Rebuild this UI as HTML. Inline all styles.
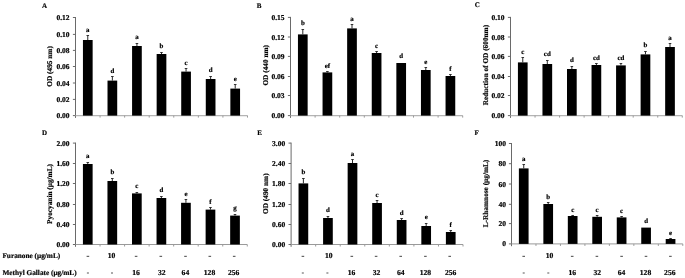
<!DOCTYPE html>
<html><head><meta charset="utf-8"><style>
html,body{margin:0;padding:0;background:#fff;}
body{width:685px;height:278px;overflow:hidden;}
svg{display:block;}
text{font-family:"Liberation Serif",serif;font-weight:bold;fill:#000;text-rendering:geometricPrecision;stroke:#000;stroke-width:0.18px;}
svg{filter:grayscale(1);}
</style></head><body>
<svg width="685" height="278" viewBox="0 0 685 278">
<rect width="685" height="278" fill="#fff"/>
<line x1="75.5" y1="17.00" x2="75.5" y2="117.90" stroke="#6a6a6a" stroke-width="1"/>
<line x1="72.90" y1="115.6" x2="75.5" y2="115.6" stroke="#6a6a6a" stroke-width="1"/>
<text x="69.60" y="118.10" text-anchor="end" font-size="7.5">0.00</text>
<line x1="72.90" y1="99.4" x2="75.5" y2="99.4" stroke="#6a6a6a" stroke-width="1"/>
<text x="69.60" y="101.90" text-anchor="end" font-size="7.5">0.02</text>
<line x1="72.90" y1="83.0" x2="75.5" y2="83.0" stroke="#6a6a6a" stroke-width="1"/>
<text x="69.60" y="85.50" text-anchor="end" font-size="7.5">0.04</text>
<line x1="72.90" y1="66.5" x2="75.5" y2="66.5" stroke="#6a6a6a" stroke-width="1"/>
<text x="69.60" y="69.00" text-anchor="end" font-size="7.5">0.06</text>
<line x1="72.90" y1="50.4" x2="75.5" y2="50.4" stroke="#6a6a6a" stroke-width="1"/>
<text x="69.60" y="52.90" text-anchor="end" font-size="7.5">0.08</text>
<line x1="72.90" y1="34.4" x2="75.5" y2="34.4" stroke="#6a6a6a" stroke-width="1"/>
<text x="69.60" y="36.90" text-anchor="end" font-size="7.5">0.10</text>
<line x1="72.90" y1="17.5" x2="75.5" y2="17.5" stroke="#6a6a6a" stroke-width="1"/>
<text x="69.60" y="20.00" text-anchor="end" font-size="7.5">0.12</text>
<line x1="75.5" y1="115.6" x2="247.49" y2="115.6" stroke="#b4b4b4" stroke-width="1.4"/>
<line x1="100.07" y1="115.6" x2="100.07" y2="117.60" stroke="#9a9a9a" stroke-width="1"/>
<line x1="124.64" y1="115.6" x2="124.64" y2="117.60" stroke="#9a9a9a" stroke-width="1"/>
<line x1="149.21" y1="115.6" x2="149.21" y2="117.60" stroke="#9a9a9a" stroke-width="1"/>
<line x1="173.78" y1="115.6" x2="173.78" y2="117.60" stroke="#9a9a9a" stroke-width="1"/>
<line x1="198.35" y1="115.6" x2="198.35" y2="117.60" stroke="#9a9a9a" stroke-width="1"/>
<line x1="222.92" y1="115.6" x2="222.92" y2="117.60" stroke="#9a9a9a" stroke-width="1"/>
<line x1="247.49" y1="115.6" x2="247.49" y2="117.60" stroke="#9a9a9a" stroke-width="1"/>
<rect x="82.94" y="40" width="9.7" height="75.60" fill="#000"/>
<line x1="87.78" y1="35.5" x2="87.78" y2="40" stroke="#111" stroke-width="0.9"/>
<line x1="86.48" y1="35.5" x2="89.08" y2="35.5" stroke="#222" stroke-width="0.9"/>
<text x="87.78" y="31.60" text-anchor="middle" font-size="6.9">a</text>
<rect x="107.51" y="80.6" width="9.7" height="35.00" fill="#000"/>
<line x1="112.36" y1="76.5" x2="112.36" y2="80.6" stroke="#111" stroke-width="0.9"/>
<line x1="111.06" y1="76.5" x2="113.66" y2="76.5" stroke="#222" stroke-width="0.9"/>
<text x="112.36" y="73.20" text-anchor="middle" font-size="6.9">d</text>
<rect x="132.08" y="46" width="9.7" height="69.60" fill="#000"/>
<line x1="136.93" y1="43.5" x2="136.93" y2="46" stroke="#111" stroke-width="0.9"/>
<line x1="135.63" y1="43.5" x2="138.23" y2="43.5" stroke="#222" stroke-width="0.9"/>
<text x="136.93" y="39.20" text-anchor="middle" font-size="6.9">a</text>
<rect x="156.65" y="54" width="9.7" height="61.60" fill="#000"/>
<line x1="161.5" y1="52.5" x2="161.5" y2="54" stroke="#111" stroke-width="0.9"/>
<line x1="160.20" y1="52.5" x2="162.80" y2="52.5" stroke="#222" stroke-width="0.9"/>
<text x="161.50" y="48.20" text-anchor="middle" font-size="6.9">b</text>
<rect x="181.22" y="71.6" width="9.7" height="44.00" fill="#000"/>
<line x1="186.06" y1="68.5" x2="186.06" y2="71.6" stroke="#111" stroke-width="0.9"/>
<line x1="184.76" y1="68.5" x2="187.36" y2="68.5" stroke="#222" stroke-width="0.9"/>
<text x="186.06" y="64.95" text-anchor="middle" font-size="6.9">c</text>
<rect x="205.78" y="79" width="9.7" height="36.60" fill="#000"/>
<line x1="210.63" y1="76.5" x2="210.63" y2="79" stroke="#111" stroke-width="0.9"/>
<line x1="209.33" y1="76.5" x2="211.93" y2="76.5" stroke="#222" stroke-width="0.9"/>
<text x="210.63" y="72.40" text-anchor="middle" font-size="6.9">d</text>
<rect x="230.36" y="88.6" width="9.7" height="27.00" fill="#000"/>
<line x1="235.21" y1="84.5" x2="235.21" y2="88.6" stroke="#111" stroke-width="0.9"/>
<line x1="233.91" y1="84.5" x2="236.51" y2="84.5" stroke="#222" stroke-width="0.9"/>
<text x="235.21" y="81.40" text-anchor="middle" font-size="6.9">e</text>
<text x="42.0" y="7.7" font-size="7.0">A</text>
<text transform="translate(52.3,66.40) rotate(-90)" text-anchor="middle" font-size="7.3">OD (495 nm)</text>
<line x1="290.5" y1="16.90" x2="290.5" y2="117.90" stroke="#6a6a6a" stroke-width="1"/>
<line x1="287.90" y1="115.6" x2="290.5" y2="115.6" stroke="#6a6a6a" stroke-width="1"/>
<text x="284.60" y="118.10" text-anchor="end" font-size="7.5">0.00</text>
<line x1="287.90" y1="95.5" x2="290.5" y2="95.5" stroke="#6a6a6a" stroke-width="1"/>
<text x="284.60" y="98.00" text-anchor="end" font-size="7.5">0.03</text>
<line x1="287.90" y1="76.5" x2="290.5" y2="76.5" stroke="#6a6a6a" stroke-width="1"/>
<text x="284.60" y="79.00" text-anchor="end" font-size="7.5">0.06</text>
<line x1="287.90" y1="56.4" x2="290.5" y2="56.4" stroke="#6a6a6a" stroke-width="1"/>
<text x="284.60" y="58.90" text-anchor="end" font-size="7.5">0.09</text>
<line x1="287.90" y1="37.0" x2="290.5" y2="37.0" stroke="#6a6a6a" stroke-width="1"/>
<text x="284.60" y="39.50" text-anchor="end" font-size="7.5">0.12</text>
<line x1="287.90" y1="17.4" x2="290.5" y2="17.4" stroke="#6a6a6a" stroke-width="1"/>
<text x="284.60" y="19.90" text-anchor="end" font-size="7.5">0.15</text>
<line x1="290.5" y1="115.6" x2="462.70" y2="115.6" stroke="#b4b4b4" stroke-width="1.4"/>
<line x1="315.10" y1="115.6" x2="315.10" y2="117.60" stroke="#9a9a9a" stroke-width="1"/>
<line x1="339.70" y1="115.6" x2="339.70" y2="117.60" stroke="#9a9a9a" stroke-width="1"/>
<line x1="364.30" y1="115.6" x2="364.30" y2="117.60" stroke="#9a9a9a" stroke-width="1"/>
<line x1="388.90" y1="115.6" x2="388.90" y2="117.60" stroke="#9a9a9a" stroke-width="1"/>
<line x1="413.50" y1="115.6" x2="413.50" y2="117.60" stroke="#9a9a9a" stroke-width="1"/>
<line x1="438.10" y1="115.6" x2="438.10" y2="117.60" stroke="#9a9a9a" stroke-width="1"/>
<line x1="462.70" y1="115.6" x2="462.70" y2="117.60" stroke="#9a9a9a" stroke-width="1"/>
<rect x="297.95" y="34.4" width="9.7" height="81.20" fill="#000"/>
<line x1="302.8" y1="29.5" x2="302.8" y2="34.4" stroke="#111" stroke-width="0.9"/>
<line x1="301.50" y1="29.5" x2="304.10" y2="29.5" stroke="#222" stroke-width="0.9"/>
<text x="302.80" y="24.70" text-anchor="middle" font-size="6.9">b</text>
<rect x="322.55" y="72.4" width="9.7" height="43.20" fill="#000"/>
<line x1="327.4" y1="71.5" x2="327.4" y2="72.4" stroke="#111" stroke-width="0.9"/>
<line x1="326.10" y1="71.5" x2="328.70" y2="71.5" stroke="#222" stroke-width="0.9"/>
<text x="327.40" y="67.60" text-anchor="middle" font-size="6.9">ef</text>
<rect x="347.15" y="28.4" width="9.7" height="87.20" fill="#000"/>
<line x1="352.0" y1="24.5" x2="352.0" y2="28.4" stroke="#111" stroke-width="0.9"/>
<line x1="350.70" y1="24.5" x2="353.30" y2="24.5" stroke="#222" stroke-width="0.9"/>
<text x="352.00" y="21.20" text-anchor="middle" font-size="6.9">a</text>
<rect x="371.75" y="53" width="9.7" height="62.60" fill="#000"/>
<line x1="376.6" y1="51.5" x2="376.6" y2="53" stroke="#111" stroke-width="0.9"/>
<line x1="375.30" y1="51.5" x2="377.90" y2="51.5" stroke="#222" stroke-width="0.9"/>
<text x="376.60" y="48.20" text-anchor="middle" font-size="6.9">c</text>
<rect x="396.35" y="63" width="9.7" height="52.60" fill="#000"/>
<text x="401.20" y="57.80" text-anchor="middle" font-size="6.9">d</text>
<rect x="420.95" y="70" width="9.7" height="45.60" fill="#000"/>
<line x1="425.8" y1="67.5" x2="425.8" y2="70" stroke="#111" stroke-width="0.9"/>
<line x1="424.50" y1="67.5" x2="427.10" y2="67.5" stroke="#222" stroke-width="0.9"/>
<text x="425.80" y="63.80" text-anchor="middle" font-size="6.9">e</text>
<rect x="445.55" y="76" width="9.7" height="39.60" fill="#000"/>
<line x1="450.4" y1="74.5" x2="450.4" y2="76" stroke="#111" stroke-width="0.9"/>
<line x1="449.10" y1="74.5" x2="451.70" y2="74.5" stroke="#222" stroke-width="0.9"/>
<text x="450.40" y="71.20" text-anchor="middle" font-size="6.9">f</text>
<text x="256.8" y="7.5" font-size="7.0">B</text>
<text transform="translate(268.3,65.30) rotate(-90)" text-anchor="middle" font-size="7.3">OD (440 nm)</text>
<line x1="510.5" y1="16.90" x2="510.5" y2="117.90" stroke="#6a6a6a" stroke-width="1"/>
<line x1="507.90" y1="115.6" x2="510.5" y2="115.6" stroke="#6a6a6a" stroke-width="1"/>
<text x="504.60" y="118.10" text-anchor="end" font-size="7.5">0.00</text>
<line x1="507.90" y1="95.5" x2="510.5" y2="95.5" stroke="#6a6a6a" stroke-width="1"/>
<text x="504.60" y="98.00" text-anchor="end" font-size="7.5">0.02</text>
<line x1="507.90" y1="76.5" x2="510.5" y2="76.5" stroke="#6a6a6a" stroke-width="1"/>
<text x="504.60" y="79.00" text-anchor="end" font-size="7.5">0.04</text>
<line x1="507.90" y1="56.4" x2="510.5" y2="56.4" stroke="#6a6a6a" stroke-width="1"/>
<text x="504.60" y="58.90" text-anchor="end" font-size="7.5">0.06</text>
<line x1="507.90" y1="37.0" x2="510.5" y2="37.0" stroke="#6a6a6a" stroke-width="1"/>
<text x="504.60" y="39.50" text-anchor="end" font-size="7.5">0.08</text>
<line x1="507.90" y1="17.4" x2="510.5" y2="17.4" stroke="#6a6a6a" stroke-width="1"/>
<text x="504.60" y="19.90" text-anchor="end" font-size="7.5">0.10</text>
<line x1="510.5" y1="115.6" x2="682.28" y2="115.6" stroke="#b4b4b4" stroke-width="1.4"/>
<line x1="535.04" y1="115.6" x2="535.04" y2="117.60" stroke="#9a9a9a" stroke-width="1"/>
<line x1="559.58" y1="115.6" x2="559.58" y2="117.60" stroke="#9a9a9a" stroke-width="1"/>
<line x1="584.12" y1="115.6" x2="584.12" y2="117.60" stroke="#9a9a9a" stroke-width="1"/>
<line x1="608.66" y1="115.6" x2="608.66" y2="117.60" stroke="#9a9a9a" stroke-width="1"/>
<line x1="633.20" y1="115.6" x2="633.20" y2="117.60" stroke="#9a9a9a" stroke-width="1"/>
<line x1="657.74" y1="115.6" x2="657.74" y2="117.60" stroke="#9a9a9a" stroke-width="1"/>
<line x1="682.28" y1="115.6" x2="682.28" y2="117.60" stroke="#9a9a9a" stroke-width="1"/>
<rect x="517.92" y="62.4" width="9.7" height="53.20" fill="#000"/>
<line x1="522.77" y1="57.5" x2="522.77" y2="62.4" stroke="#111" stroke-width="0.9"/>
<line x1="521.47" y1="57.5" x2="524.07" y2="57.5" stroke="#222" stroke-width="0.9"/>
<text x="522.77" y="53.90" text-anchor="middle" font-size="6.9">c</text>
<rect x="542.46" y="64" width="9.7" height="51.60" fill="#000"/>
<line x1="547.31" y1="60.5" x2="547.31" y2="64" stroke="#111" stroke-width="0.9"/>
<line x1="546.01" y1="60.5" x2="548.61" y2="60.5" stroke="#222" stroke-width="0.9"/>
<text x="547.31" y="56.20" text-anchor="middle" font-size="6.9">cd</text>
<rect x="567.00" y="69" width="9.7" height="46.60" fill="#000"/>
<line x1="571.85" y1="66.5" x2="571.85" y2="69" stroke="#111" stroke-width="0.9"/>
<line x1="570.55" y1="66.5" x2="573.15" y2="66.5" stroke="#222" stroke-width="0.9"/>
<text x="571.85" y="62.30" text-anchor="middle" font-size="6.9">d</text>
<rect x="591.54" y="65" width="9.7" height="50.60" fill="#000"/>
<line x1="596.39" y1="63.5" x2="596.39" y2="65" stroke="#111" stroke-width="0.9"/>
<line x1="595.09" y1="63.5" x2="597.69" y2="63.5" stroke="#222" stroke-width="0.9"/>
<text x="596.39" y="59.60" text-anchor="middle" font-size="6.9">cd</text>
<rect x="616.08" y="65.4" width="9.7" height="50.20" fill="#000"/>
<line x1="620.93" y1="63.5" x2="620.93" y2="65.4" stroke="#111" stroke-width="0.9"/>
<line x1="619.63" y1="63.5" x2="622.23" y2="63.5" stroke="#222" stroke-width="0.9"/>
<text x="620.93" y="59.60" text-anchor="middle" font-size="6.9">cd</text>
<rect x="640.62" y="54.4" width="9.7" height="61.20" fill="#000"/>
<line x1="645.47" y1="51.5" x2="645.47" y2="54.4" stroke="#111" stroke-width="0.9"/>
<line x1="644.17" y1="51.5" x2="646.77" y2="51.5" stroke="#222" stroke-width="0.9"/>
<text x="645.47" y="47.00" text-anchor="middle" font-size="6.9">b</text>
<rect x="665.16" y="47" width="9.7" height="68.60" fill="#000"/>
<line x1="670.01" y1="43.5" x2="670.01" y2="47" stroke="#111" stroke-width="0.9"/>
<line x1="668.71" y1="43.5" x2="671.31" y2="43.5" stroke="#222" stroke-width="0.9"/>
<text x="670.01" y="39.60" text-anchor="middle" font-size="6.9">a</text>
<text x="474.7" y="6.6" font-size="7.0">C</text>
<text transform="translate(487.7,65.10) rotate(-90)" text-anchor="middle" font-size="7.3">Reduction of OD (600nm)</text>
<line x1="75.5" y1="142.60" x2="75.5" y2="246.80" stroke="#6a6a6a" stroke-width="1"/>
<line x1="72.90" y1="244.5" x2="75.5" y2="244.5" stroke="#6a6a6a" stroke-width="1"/>
<text x="69.60" y="247.00" text-anchor="end" font-size="7.5">0.00</text>
<line x1="72.90" y1="224.5" x2="75.5" y2="224.5" stroke="#6a6a6a" stroke-width="1"/>
<text x="69.60" y="227.00" text-anchor="end" font-size="7.5">0.40</text>
<line x1="72.90" y1="204.5" x2="75.5" y2="204.5" stroke="#6a6a6a" stroke-width="1"/>
<text x="69.60" y="207.00" text-anchor="end" font-size="7.5">0.80</text>
<line x1="72.90" y1="183.5" x2="75.5" y2="183.5" stroke="#6a6a6a" stroke-width="1"/>
<text x="69.60" y="186.00" text-anchor="end" font-size="7.5">1.20</text>
<line x1="72.90" y1="163.5" x2="75.5" y2="163.5" stroke="#6a6a6a" stroke-width="1"/>
<text x="69.60" y="166.00" text-anchor="end" font-size="7.5">1.60</text>
<line x1="72.90" y1="143.1" x2="75.5" y2="143.1" stroke="#6a6a6a" stroke-width="1"/>
<text x="69.60" y="145.60" text-anchor="end" font-size="7.5">2.00</text>
<line x1="75.5" y1="244.5" x2="247.28" y2="244.5" stroke="#9a9a9a" stroke-width="1"/>
<line x1="100.04" y1="244.5" x2="100.04" y2="246.50" stroke="#9a9a9a" stroke-width="1"/>
<line x1="124.58" y1="244.5" x2="124.58" y2="246.50" stroke="#9a9a9a" stroke-width="1"/>
<line x1="149.12" y1="244.5" x2="149.12" y2="246.50" stroke="#9a9a9a" stroke-width="1"/>
<line x1="173.66" y1="244.5" x2="173.66" y2="246.50" stroke="#9a9a9a" stroke-width="1"/>
<line x1="198.20" y1="244.5" x2="198.20" y2="246.50" stroke="#9a9a9a" stroke-width="1"/>
<line x1="222.74" y1="244.5" x2="222.74" y2="246.50" stroke="#9a9a9a" stroke-width="1"/>
<line x1="247.28" y1="244.5" x2="247.28" y2="246.50" stroke="#9a9a9a" stroke-width="1"/>
<rect x="82.92" y="164" width="9.7" height="80.50" fill="#000"/>
<line x1="87.77" y1="162.5" x2="87.77" y2="164" stroke="#111" stroke-width="0.9"/>
<line x1="86.47" y1="162.5" x2="89.07" y2="162.5" stroke="#222" stroke-width="0.9"/>
<text x="87.77" y="158.10" text-anchor="middle" font-size="6.9">a</text>
<rect x="107.46" y="181" width="9.7" height="63.50" fill="#000"/>
<line x1="112.31" y1="178.5" x2="112.31" y2="181" stroke="#111" stroke-width="0.9"/>
<line x1="111.01" y1="178.5" x2="113.61" y2="178.5" stroke="#222" stroke-width="0.9"/>
<text x="112.31" y="173.80" text-anchor="middle" font-size="6.9">b</text>
<rect x="132.00" y="193.4" width="9.7" height="51.10" fill="#000"/>
<line x1="136.85" y1="192.5" x2="136.85" y2="193.4" stroke="#111" stroke-width="0.9"/>
<line x1="135.55" y1="192.5" x2="138.15" y2="192.5" stroke="#222" stroke-width="0.9"/>
<text x="136.85" y="187.60" text-anchor="middle" font-size="6.9">c</text>
<rect x="156.54" y="198" width="9.7" height="46.50" fill="#000"/>
<line x1="161.39" y1="196.5" x2="161.39" y2="198" stroke="#111" stroke-width="0.9"/>
<line x1="160.09" y1="196.5" x2="162.69" y2="196.5" stroke="#222" stroke-width="0.9"/>
<text x="161.39" y="192.10" text-anchor="middle" font-size="6.9">d</text>
<rect x="181.08" y="202.8" width="9.7" height="41.70" fill="#000"/>
<line x1="185.93" y1="199.5" x2="185.93" y2="202.8" stroke="#111" stroke-width="0.9"/>
<line x1="184.63" y1="199.5" x2="187.23" y2="199.5" stroke="#222" stroke-width="0.9"/>
<text x="185.93" y="195.80" text-anchor="middle" font-size="6.9">e</text>
<rect x="205.62" y="209.6" width="9.7" height="34.90" fill="#000"/>
<line x1="210.47" y1="207.5" x2="210.47" y2="209.6" stroke="#111" stroke-width="0.9"/>
<line x1="209.17" y1="207.5" x2="211.77" y2="207.5" stroke="#222" stroke-width="0.9"/>
<text x="210.47" y="203.80" text-anchor="middle" font-size="6.9">f</text>
<rect x="230.16" y="215.6" width="9.7" height="28.90" fill="#000"/>
<line x1="235.01" y1="214.5" x2="235.01" y2="215.6" stroke="#111" stroke-width="0.9"/>
<line x1="233.71" y1="214.5" x2="236.31" y2="214.5" stroke="#222" stroke-width="0.9"/>
<text x="235.01" y="209.80" text-anchor="middle" font-size="6.9">g</text>
<text x="42.0" y="134.8" font-size="7.0">D</text>
<text transform="translate(51.6,194.00) rotate(-90)" text-anchor="middle" font-size="7.3">Pyocyanin (μg/mL)</text>
<rect x="86.60" y="255.8" width="2.6" height="1.1" fill="#555"/>
<rect x="86.90" y="272" width="2" height="2" fill="#aaa"/>
<text x="111.45" y="257.9" text-anchor="middle" font-size="7.6">10</text>
<rect x="111.00" y="272" width="2" height="2" fill="#aaa"/>
<rect x="134.80" y="255.8" width="2.6" height="1.1" fill="#555"/>
<text x="136.00" y="274.8" text-anchor="middle" font-size="7.6">16</text>
<rect x="159.50" y="255.8" width="2.6" height="1.1" fill="#555"/>
<text x="161.80" y="274.8" text-anchor="middle" font-size="7.6">32</text>
<rect x="184.20" y="255.8" width="2.6" height="1.1" fill="#555"/>
<text x="185.40" y="274.8" text-anchor="middle" font-size="7.6">64</text>
<rect x="208.50" y="255.8" width="2.6" height="1.1" fill="#555"/>
<text x="209.50" y="274.8" text-anchor="middle" font-size="7.6">128</text>
<rect x="232.90" y="255.8" width="2.6" height="1.1" fill="#555"/>
<text x="233.60" y="274.8" text-anchor="middle" font-size="7.6">256</text>
<line x1="291.1" y1="142.60" x2="291.1" y2="246.80" stroke="#6a6a6a" stroke-width="1"/>
<line x1="288.50" y1="244.5" x2="291.1" y2="244.5" stroke="#6a6a6a" stroke-width="1"/>
<text x="285.20" y="247.00" text-anchor="end" font-size="7.5">0.00</text>
<line x1="288.50" y1="224.5" x2="291.1" y2="224.5" stroke="#6a6a6a" stroke-width="1"/>
<text x="285.20" y="227.00" text-anchor="end" font-size="7.5">0.60</text>
<line x1="288.50" y1="204.5" x2="291.1" y2="204.5" stroke="#6a6a6a" stroke-width="1"/>
<text x="285.20" y="207.00" text-anchor="end" font-size="7.5">1.20</text>
<line x1="288.50" y1="183.5" x2="291.1" y2="183.5" stroke="#6a6a6a" stroke-width="1"/>
<text x="285.20" y="186.00" text-anchor="end" font-size="7.5">1.80</text>
<line x1="288.50" y1="163.5" x2="291.1" y2="163.5" stroke="#6a6a6a" stroke-width="1"/>
<text x="285.20" y="166.00" text-anchor="end" font-size="7.5">2.40</text>
<line x1="288.50" y1="143.1" x2="291.1" y2="143.1" stroke="#6a6a6a" stroke-width="1"/>
<text x="285.20" y="145.60" text-anchor="end" font-size="7.5">3.00</text>
<line x1="291.1" y1="244.5" x2="463.02" y2="244.5" stroke="#9a9a9a" stroke-width="1"/>
<line x1="315.66" y1="244.5" x2="315.66" y2="246.50" stroke="#9a9a9a" stroke-width="1"/>
<line x1="340.22" y1="244.5" x2="340.22" y2="246.50" stroke="#9a9a9a" stroke-width="1"/>
<line x1="364.78" y1="244.5" x2="364.78" y2="246.50" stroke="#9a9a9a" stroke-width="1"/>
<line x1="389.34" y1="244.5" x2="389.34" y2="246.50" stroke="#9a9a9a" stroke-width="1"/>
<line x1="413.90" y1="244.5" x2="413.90" y2="246.50" stroke="#9a9a9a" stroke-width="1"/>
<line x1="438.46" y1="244.5" x2="438.46" y2="246.50" stroke="#9a9a9a" stroke-width="1"/>
<line x1="463.02" y1="244.5" x2="463.02" y2="246.50" stroke="#9a9a9a" stroke-width="1"/>
<rect x="298.53" y="183.4" width="9.7" height="61.10" fill="#000"/>
<line x1="303.38" y1="178.5" x2="303.38" y2="183.4" stroke="#111" stroke-width="0.9"/>
<line x1="302.08" y1="178.5" x2="304.68" y2="178.5" stroke="#222" stroke-width="0.9"/>
<text x="303.38" y="174.20" text-anchor="middle" font-size="6.9">b</text>
<rect x="323.09" y="218" width="9.7" height="26.50" fill="#000"/>
<line x1="327.94" y1="216.5" x2="327.94" y2="218" stroke="#111" stroke-width="0.9"/>
<line x1="326.64" y1="216.5" x2="329.24" y2="216.5" stroke="#222" stroke-width="0.9"/>
<text x="327.94" y="212.20" text-anchor="middle" font-size="6.9">d</text>
<rect x="347.65" y="163" width="9.7" height="81.50" fill="#000"/>
<line x1="352.5" y1="159.5" x2="352.5" y2="163" stroke="#111" stroke-width="0.9"/>
<line x1="351.20" y1="159.5" x2="353.80" y2="159.5" stroke="#222" stroke-width="0.9"/>
<text x="352.50" y="156.20" text-anchor="middle" font-size="6.9">a</text>
<rect x="372.21" y="203" width="9.7" height="41.50" fill="#000"/>
<line x1="377.06" y1="200.5" x2="377.06" y2="203" stroke="#111" stroke-width="0.9"/>
<line x1="375.76" y1="200.5" x2="378.36" y2="200.5" stroke="#222" stroke-width="0.9"/>
<text x="377.06" y="197.20" text-anchor="middle" font-size="6.9">c</text>
<rect x="396.77" y="220" width="9.7" height="24.50" fill="#000"/>
<line x1="401.62" y1="218.5" x2="401.62" y2="220" stroke="#111" stroke-width="0.9"/>
<line x1="400.32" y1="218.5" x2="402.92" y2="218.5" stroke="#222" stroke-width="0.9"/>
<text x="401.62" y="214.80" text-anchor="middle" font-size="6.9">d</text>
<rect x="421.33" y="226" width="9.7" height="18.50" fill="#000"/>
<line x1="426.18" y1="223.5" x2="426.18" y2="226" stroke="#111" stroke-width="0.9"/>
<line x1="424.88" y1="223.5" x2="427.48" y2="223.5" stroke="#222" stroke-width="0.9"/>
<text x="426.18" y="219.00" text-anchor="middle" font-size="6.9">e</text>
<rect x="445.89" y="232" width="9.7" height="12.50" fill="#000"/>
<line x1="450.74" y1="230.5" x2="450.74" y2="232" stroke="#111" stroke-width="0.9"/>
<line x1="449.44" y1="230.5" x2="452.04" y2="230.5" stroke="#222" stroke-width="0.9"/>
<text x="450.74" y="227.20" text-anchor="middle" font-size="6.9">f</text>
<text x="257.2" y="135.2" font-size="7.0">E</text>
<text transform="translate(268.3,193.70) rotate(-90)" text-anchor="middle" font-size="7.3">OD (490 nm)</text>
<rect x="301.60" y="255.8" width="2.6" height="1.1" fill="#555"/>
<rect x="301.80" y="272" width="2" height="2" fill="#aaa"/>
<text x="328.70" y="257.9" text-anchor="middle" font-size="7.6">10</text>
<rect x="326.40" y="272" width="2" height="2" fill="#aaa"/>
<rect x="350.50" y="255.8" width="2.6" height="1.1" fill="#555"/>
<text x="351.50" y="274.8" text-anchor="middle" font-size="7.6">16</text>
<rect x="374.80" y="255.8" width="2.6" height="1.1" fill="#555"/>
<text x="376.60" y="274.8" text-anchor="middle" font-size="7.6">32</text>
<rect x="399.40" y="255.8" width="2.6" height="1.1" fill="#555"/>
<text x="400.70" y="274.8" text-anchor="middle" font-size="7.6">64</text>
<rect x="424.10" y="255.8" width="2.6" height="1.1" fill="#555"/>
<text x="425.40" y="274.8" text-anchor="middle" font-size="7.6">128</text>
<rect x="448.40" y="255.8" width="2.6" height="1.1" fill="#555"/>
<text x="450.60" y="274.8" text-anchor="middle" font-size="7.6">256</text>
<line x1="511.5" y1="143.00" x2="511.5" y2="246.20" stroke="#6a6a6a" stroke-width="1"/>
<line x1="508.90" y1="243.9" x2="511.5" y2="243.9" stroke="#6a6a6a" stroke-width="1"/>
<text x="506.10" y="246.40" text-anchor="end" font-size="7.5">0</text>
<line x1="508.90" y1="223.6" x2="511.5" y2="223.6" stroke="#6a6a6a" stroke-width="1"/>
<text x="506.10" y="226.10" text-anchor="end" font-size="7.5">20</text>
<line x1="508.90" y1="204.3" x2="511.5" y2="204.3" stroke="#6a6a6a" stroke-width="1"/>
<text x="506.10" y="206.80" text-anchor="end" font-size="7.5">40</text>
<line x1="508.90" y1="184.0" x2="511.5" y2="184.0" stroke="#6a6a6a" stroke-width="1"/>
<text x="506.10" y="186.50" text-anchor="end" font-size="7.5">60</text>
<line x1="508.90" y1="163.7" x2="511.5" y2="163.7" stroke="#6a6a6a" stroke-width="1"/>
<text x="506.10" y="166.20" text-anchor="end" font-size="7.5">80</text>
<line x1="508.90" y1="143.5" x2="511.5" y2="143.5" stroke="#6a6a6a" stroke-width="1"/>
<text x="506.10" y="146.00" text-anchor="end" font-size="7.5">100</text>
<line x1="511.5" y1="243.9" x2="682.79" y2="243.9" stroke="#9a9a9a" stroke-width="1"/>
<line x1="535.97" y1="243.9" x2="535.97" y2="245.90" stroke="#9a9a9a" stroke-width="1"/>
<line x1="560.44" y1="243.9" x2="560.44" y2="245.90" stroke="#9a9a9a" stroke-width="1"/>
<line x1="584.91" y1="243.9" x2="584.91" y2="245.90" stroke="#9a9a9a" stroke-width="1"/>
<line x1="609.38" y1="243.9" x2="609.38" y2="245.90" stroke="#9a9a9a" stroke-width="1"/>
<line x1="633.85" y1="243.9" x2="633.85" y2="245.90" stroke="#9a9a9a" stroke-width="1"/>
<line x1="658.32" y1="243.9" x2="658.32" y2="245.90" stroke="#9a9a9a" stroke-width="1"/>
<line x1="682.79" y1="243.9" x2="682.79" y2="245.90" stroke="#9a9a9a" stroke-width="1"/>
<rect x="518.88" y="168.4" width="9.7" height="75.50" fill="#000"/>
<line x1="523.74" y1="164.5" x2="523.74" y2="168.4" stroke="#111" stroke-width="0.9"/>
<line x1="522.44" y1="164.5" x2="525.04" y2="164.5" stroke="#222" stroke-width="0.9"/>
<text x="523.74" y="161.20" text-anchor="middle" font-size="6.9">a</text>
<rect x="543.36" y="204" width="9.7" height="39.90" fill="#000"/>
<line x1="548.21" y1="202.5" x2="548.21" y2="204" stroke="#111" stroke-width="0.9"/>
<line x1="546.91" y1="202.5" x2="549.51" y2="202.5" stroke="#222" stroke-width="0.9"/>
<text x="548.21" y="198.70" text-anchor="middle" font-size="6.9">b</text>
<rect x="567.82" y="216" width="9.7" height="27.90" fill="#000"/>
<line x1="572.67" y1="215.5" x2="572.67" y2="216" stroke="#111" stroke-width="0.9"/>
<line x1="571.37" y1="215.5" x2="573.97" y2="215.5" stroke="#222" stroke-width="0.9"/>
<text x="572.67" y="211.60" text-anchor="middle" font-size="6.9">c</text>
<rect x="592.29" y="216.8" width="9.7" height="27.10" fill="#000"/>
<line x1="597.14" y1="215.5" x2="597.14" y2="216.8" stroke="#111" stroke-width="0.9"/>
<line x1="595.84" y1="215.5" x2="598.44" y2="215.5" stroke="#222" stroke-width="0.9"/>
<text x="597.14" y="211.80" text-anchor="middle" font-size="6.9">c</text>
<rect x="616.76" y="217.4" width="9.7" height="26.50" fill="#000"/>
<line x1="621.62" y1="216.5" x2="621.62" y2="217.4" stroke="#111" stroke-width="0.9"/>
<line x1="620.32" y1="216.5" x2="622.92" y2="216.5" stroke="#222" stroke-width="0.9"/>
<text x="621.62" y="212.80" text-anchor="middle" font-size="6.9">c</text>
<rect x="641.24" y="227.6" width="9.7" height="16.30" fill="#000"/>
<text x="646.09" y="223.20" text-anchor="middle" font-size="6.9">d</text>
<rect x="665.71" y="239.0" width="9.7" height="4.90" fill="#000"/>
<line x1="670.56" y1="238.5" x2="670.56" y2="239.0" stroke="#111" stroke-width="0.9"/>
<line x1="669.26" y1="238.5" x2="671.86" y2="238.5" stroke="#222" stroke-width="0.9"/>
<text x="670.56" y="235.20" text-anchor="middle" font-size="6.9">e</text>
<text x="474.4" y="134.6" font-size="7.0">F</text>
<text transform="translate(487.8,193.50) rotate(-90)" text-anchor="middle" font-size="7.3">L-Rhamnose (μg/mL)</text>
<rect x="522.40" y="255.8" width="2.6" height="1.1" fill="#555"/>
<rect x="522.70" y="272" width="2" height="2" fill="#aaa"/>
<text x="549.50" y="257.9" text-anchor="middle" font-size="7.6">10</text>
<rect x="547.30" y="272" width="2" height="2" fill="#aaa"/>
<rect x="570.90" y="255.8" width="2.6" height="1.1" fill="#555"/>
<text x="572.20" y="274.8" text-anchor="middle" font-size="7.6">16</text>
<rect x="595.60" y="255.8" width="2.6" height="1.1" fill="#555"/>
<text x="597.30" y="274.8" text-anchor="middle" font-size="7.6">32</text>
<rect x="620.30" y="255.8" width="2.6" height="1.1" fill="#555"/>
<text x="621.60" y="274.8" text-anchor="middle" font-size="7.6">64</text>
<rect x="644.70" y="255.8" width="2.6" height="1.1" fill="#555"/>
<text x="645.50" y="274.8" text-anchor="middle" font-size="7.6">128</text>
<rect x="669.10" y="255.8" width="2.6" height="1.1" fill="#555"/>
<text x="669.80" y="274.8" text-anchor="middle" font-size="7.6">256</text>
<text x="2.4" y="257.9" font-size="7.3">Furanone (μg/mL)</text>
<text x="2.4" y="274.6" font-size="7.3">Methyl Gallate (μg/mL)</text>
</svg>
</body></html>
